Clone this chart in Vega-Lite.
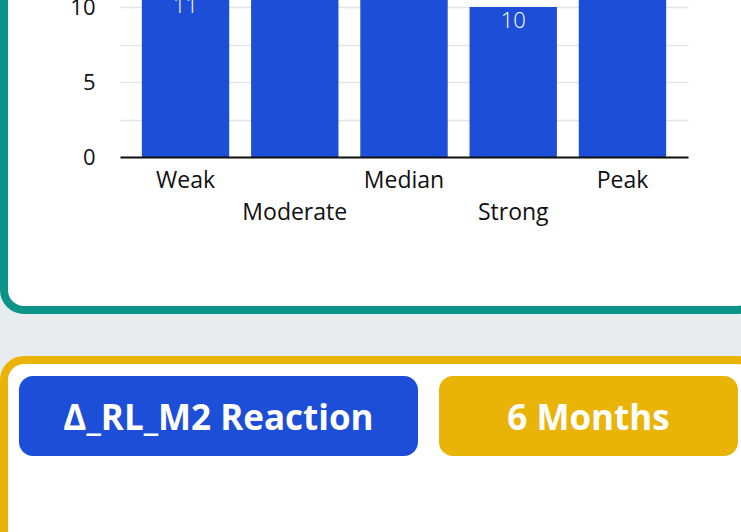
{
  "$schema": "https://vega.github.io/schema/vega-lite/v6.json",
  "usermeta": {"embedOptions": {"actions": false}},
  "background": "#e9ecef",
  "padding": {"left": 0, "top": -87, "right": -20, "bottom": -72},
  "spacing": 42,
  "config": {"font": "Open Sans"},
  "vconcat": [
    {
      "width": 753,
      "height": 393,
      "view": {"fill": "white", "stroke": "#0d9488", "strokeWidth": 8, "cornerRadius": 20},
      "data": {"values": [
        {"level": "Weak", "count": 11},
        {"level": "Moderate", "count": 14},
        {"level": "Median", "count": 13},
        {"level": "Strong", "count": 10},
        {"level": "Peak", "count": 15}
      ]},
      "encoding": {
        "x": {
          "field": "level", "type": "nominal", "sort": null,
          "scale": {"domain": ["Weak", "Moderate", "Median", "Strong", "Peak"], "range": [116, 684], "paddingInner": 0.2, "paddingOuter": 0.2},
          "axis": {
            "title": null, "orient": "bottom", "offset": -153, "zindex": 1,
            "labelAngle": 0, "ticks": false, "grid": false,
            "domainColor": "#111111", "domainWidth": 2,
            "labelPadding": 12, "labelFontSize": 23, "labelColor": "#111111",
            "labelLineHeight": 32, "labelOverlap": false, "labelBound": false,
            "labelExpr": "datum.value == 'Moderate' || datum.value == 'Strong' ? ['', datum.label] : datum.label"
          }
        },
        "y": {
          "field": "count", "type": "quantitative",
          "scale": {"domain": [-10.2, 16], "nice": false, "zero": false},
          "axis": {
            "title": null, "values": [0, 2.5, 5, 7.5, 10, 12.5, 15],
            "labelExpr": "datum.value % 5 == 0 ? datum.label : ''",
            "offset": -116, "domain": false, "ticks": false,
            "labelPadding": 25, "labelFontSize": 22, "labelColor": "#111111",
            "grid": true, "gridColor": "#e4e4e4", "gridWidth": 1.5
          }
        }
      },
      "layer": [
        {"mark": {"type": "bar", "color": "#1d4ed8", "clip": true}},
        {
          "mark": {"type": "text", "baseline": "top", "dy": 4, "color": "white", "fontSize": 22, "fontWeight": 300, "clip": true},
          "encoding": {"text": {"field": "count"}}
        }
      ]
    },
    {
      "width": 753,
      "height": 240,
      "view": {"fill": "white", "stroke": "#eab308", "strokeWidth": 8, "cornerRadius": 20},
      "data": {"values": [
        {"badge": "Δ_RL_M2 Reaction", "kind": "metric", "section": "header"},
        {"badge": "6 Months", "kind": "period", "section": "header"}
      ]},
      "encoding": {
        "x": {
          "field": "badge", "type": "nominal", "sort": null,
          "scale": {"domain": ["Δ_RL_M2 Reaction", "6 Months"], "range": [29.5, 769.5], "paddingInner": 0, "paddingOuter": 0},
          "axis": null
        },
        "y": {
          "field": "section", "type": "nominal",
          "scale": {"domain": ["header"], "range": [16, 96], "paddingInner": 0, "paddingOuter": 0},
          "axis": null
        }
      },
      "layer": [
        {
          "transform": [{"filter": "datum.kind == 'metric'"}],
          "mark": {"type": "rect", "color": "#1d4ed8", "cornerRadius": 14, "width": {"band": 1.0784}, "height": {"band": 1}}
        },
        {
          "transform": [{"filter": "datum.kind == 'period'"}],
          "mark": {"type": "rect", "color": "#eab308", "cornerRadius": 14, "width": {"band": 0.8081}, "height": {"band": 1}}
        },
        {
          "mark": {"type": "text", "color": "white", "fontSize": 35, "fontWeight": "bold", "baseline": "middle", "dy": 3},
          "encoding": {"text": {"field": "badge"}}
        }
      ]
    }
  ]
}
